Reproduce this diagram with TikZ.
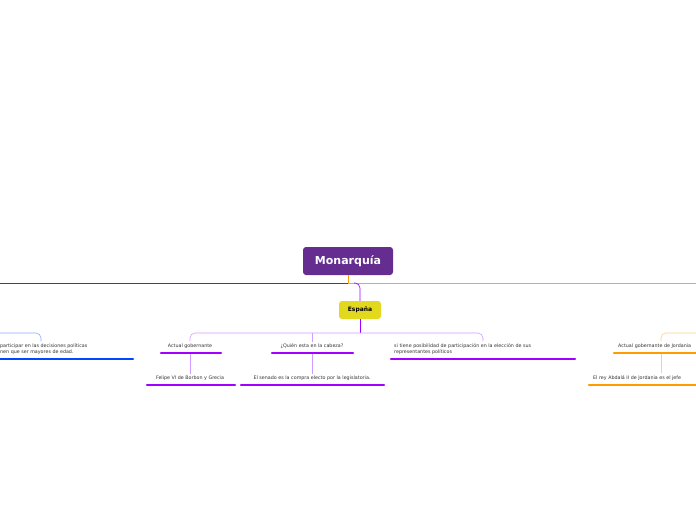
\documentclass[tikz,border=0pt]{standalone}
\usepackage{fontspec}
\setmainfont{DejaVu Sans}
\usetikzlibrary{positioning}
\definecolor{rootc}{HTML}{662D91}
\definecolor{espc}{HTML}{E2D81E}
\definecolor{vio}{HTML}{A100FF}
\definecolor{liteVio}{HTML}{D29BFF}
\definecolor{blu}{HTML}{0047FF}
\definecolor{liteBlu}{HTML}{8FA8FF}
\definecolor{ora}{HTML}{FF9A00}
\definecolor{midOra}{HTML}{FFA520}
\definecolor{liteOra}{HTML}{FFD08A}
\definecolor{txt}{HTML}{333333}
\tikzset{
  leaf/.style={inner sep=1pt, font=\fontsize{4.8}{6}\selectfont, text=txt},
  uline/.style={line width=2.2pt, line cap=round},
  link/.style={line width=0.6pt, rounded corners=5pt}
}
\begin{document}
\begin{tikzpicture}[x=1pt,y=-1pt]
\useasboundingbox (0,0) rectangle (696,520);
\clip (0,0) rectangle (696,520);
\begin{scope}
    \node [fill=rootc, rounded corners=3pt, minimum width=90pt, minimum height=28pt, text=white, font=\bfseries\fontsize{11}{13}\selectfont] (root) at (348,261) {Monarquía};
    \node [fill=espc, rounded corners=3pt, minimum width=42pt, minimum height=18pt, font=\bfseries\fontsize{6}{7}\selectfont] (esp) at (360,310) {España};
    \coordinate (hub) at (348,283);
    \coordinate (lend) at (0,283);
    \coordinate (rend) at (696,283);
    % main branches
    \draw [ora, line width=0.8pt] (root.south) -- (hub);
    \draw [blu, line width=0.8pt] (hub) -- (lend);
    \draw [midOra, line width=1pt] (hub) -- (rend);
    \draw [vio, link] (354,283) -| (esp.north);
    % children of España
    \node [leaf] (gob) at (190,346) {Actual gobernante};
    \node [leaf] (quien) at (312,346) {¿Quién esta en la cabeza?};
    \node [leaf, align=left, anchor=west] (part) at (393,349) {si tiene posibilidad de participación en la elección de sus\\representantes políticos};
    \node [leaf] (felipe) at (190,378) {Felipe VI de Borbon y Grecia};
    \node [leaf] (senado) at (312,378) {El senado es la compra electo por la legislatoria.};
    \draw [vio, line width=0.8pt] (esp.south) -- (360,333);
    \draw [liteVio, link] (190,341) |- (483,333) -- (483,341);
    \draw [liteVio, link] (312,333) -- (quien.north);
    \draw [liteVio, line width=0.6pt] (190,353) -- (felipe.north);
    \draw [liteVio, line width=0.6pt] (312,353) -- (senado.north);
    \draw [vio, uline] (161,353) -- (221,353);
    \draw [vio, uline] (272,353) -- (353,353);
    \draw [vio, uline] (391,359) -- (575,359);
    \draw [vio, uline] (147,385) -- (235,385);
    \draw [vio, uline] (241,385) -- (384,385);
    % left branch
    \node [leaf, align=left, anchor=west] (votar) at (-1,349) {participar en las decisiones políticas\\nen que ser mayores de edad.};
    \draw [liteBlu, link] (0,333) -| (41,341);
    \draw [blu, uline] (-5,359) -- (133,359);
    % right branch
    \node [leaf, anchor=west] (jgob) at (617,346) {Actual gobernante de Jordania};
    \node [leaf, anchor=west] (rey) at (592,378) {El rey Abdalá II de Jordania es el jefe};
    \draw [liteOra, link] (700,333) -| (661,341);
    \draw [liteOra, line width=0.6pt] (661,353) -- (661,373);
    \draw [ora, uline] (614,353) -- (700,353);
    \draw [ora, uline] (589,385) -- (700,385);
\end{scope}
\end{tikzpicture}
\end{document}
